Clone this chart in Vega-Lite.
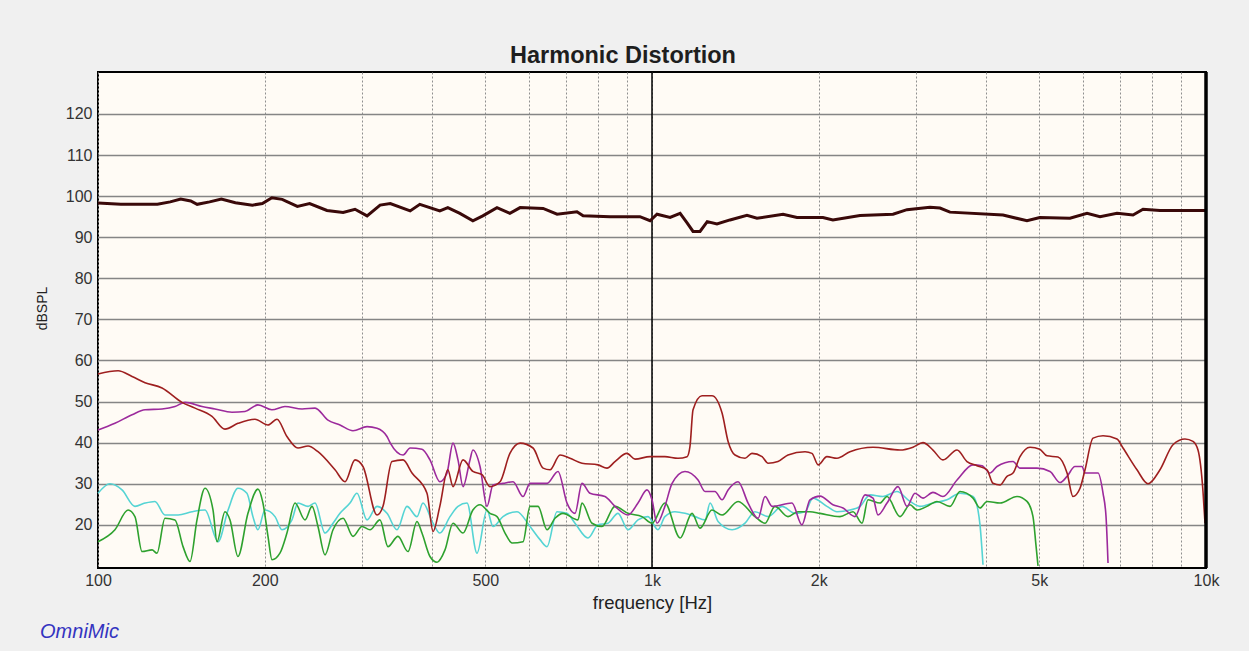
{
  "$schema": "https://vega.github.io/schema/vega-lite/v6.json",
  "width": 1108,
  "height": 496,
  "autosize": {"type": "none"},
  "padding": {"left": 98, "top": 72, "right": 43, "bottom": 83},
  "background": "#f0f0f0",
  "title": {"text": "Harmonic Distortion", "font": "Liberation Sans", "fontSize": 23.5, "fontWeight": "bold", "color": "#1e1e1e", "anchor": "middle", "offset": 3, "dx": -29},
  "config": {"view": {"stroke": "#000000", "strokeWidth": 2, "fill": "#fffbf5"}},
  "datasets": {
    "curves": [
      {"s":"F","f":100,"db":98.3},{"s":"F","f":110,"db":98.0},{"s":"F","f":128,"db":98.0},{"s":"F","f":135,"db":98.6},{"s":"F","f":141,"db":99.3},{"s":"F","f":147,"db":98.8},{"s":"F","f":151,"db":98.0},{"s":"F","f":159,"db":98.6},{"s":"F","f":167,"db":99.3},{"s":"F","f":177,"db":98.4},{"s":"F","f":190,"db":97.8},{"s":"F","f":198,"db":98.2},{"s":"F","f":206,"db":99.6},{"s":"F","f":215,"db":99.2},{"s":"F","f":229,"db":97.5},{"s":"F","f":241,"db":98.2},{"s":"F","f":259,"db":96.5},{"s":"F","f":277,"db":96.0},{"s":"F","f":291,"db":96.8},{"s":"F","f":306,"db":95.2},{"s":"F","f":323,"db":97.8},{"s":"F","f":337,"db":98.2},{"s":"F","f":366,"db":96.4},{"s":"F","f":381,"db":98.0},{"s":"F","f":414,"db":96.4},{"s":"F","f":428,"db":97.2},{"s":"F","f":450,"db":95.8},{"s":"F","f":475,"db":94.0},{"s":"F","f":495,"db":95.2},{"s":"F","f":525,"db":97.2},{"s":"F","f":554,"db":95.8},{"s":"F","f":578,"db":97.2},{"s":"F","f":636,"db":97.0},{"s":"F","f":674,"db":95.6},{"s":"F","f":732,"db":96.2},{"s":"F","f":751,"db":95.2},{"s":"F","f":840,"db":95.0},{"s":"F","f":951,"db":95.0},{"s":"F","f":992,"db":94.0},{"s":"F","f":1021,"db":95.6},{"s":"F","f":1078,"db":94.8},{"s":"F","f":1124,"db":95.8},{"s":"F","f":1157,"db":93.5},{"s":"F","f":1186,"db":91.4},{"s":"F","f":1221,"db":91.4},{"s":"F","f":1258,"db":93.8},{"s":"F","f":1310,"db":93.2},{"s":"F","f":1383,"db":94.2},{"s":"F","f":1484,"db":95.3},{"s":"F","f":1547,"db":94.6},{"s":"F","f":1724,"db":95.6},{"s":"F","f":1827,"db":94.8},{"s":"F","f":2035,"db":94.8},{"s":"F","f":2121,"db":94.2},{"s":"F","f":2374,"db":95.3},{"s":"F","f":2723,"db":95.6},{"s":"F","f":2886,"db":96.7},{"s":"F","f":3175,"db":97.3},{"s":"F","f":3310,"db":97.1},{"s":"F","f":3450,"db":96.1},{"s":"F","f":4301,"db":95.4},{"s":"F","f":4752,"db":94.0},{"s":"F","f":5012,"db":94.8},{"s":"F","f":5682,"db":94.6},{"s":"F","f":6099,"db":95.8},{"s":"F","f":6437,"db":95.0},{"s":"F","f":6908,"db":95.8},{"s":"F","f":7383,"db":95.4},{"s":"F","f":7697,"db":96.8},{"s":"F","f":8259,"db":96.5},{"s":"F","f":10000,"db":96.5},

      {"s":"H2","f":100,"db":56.7},{"s":"H2","f":108.7,"db":57.5},{"s":"H2","f":115.2,"db":56.1},{"s":"H2","f":121.6,"db":54.6},{"s":"H2","f":130.5,"db":53.3},{"s":"H2","f":141.8,"db":49.8},{"s":"H2","f":149.7,"db":48.4},{"s":"H2","f":160.6,"db":46.4},{"s":"H2","f":169.5,"db":43.3},{"s":"H2","f":178.9,"db":44.7},{"s":"H2","f":192,"db":45.7},{"s":"H2","f":202.7,"db":44.3},{"s":"H2","f":210.4,"db":45.7},{"s":"H2","f":219.3,"db":41.5},{"s":"H2","f":229.6,"db":38.7},{"s":"H2","f":239.4,"db":39.2},{"s":"H2","f":249.5,"db":37.8},{"s":"H2","f":267.8,"db":33.4},{"s":"H2","f":279.2,"db":30.5},{"s":"H2","f":291,"db":35.8},{"s":"H2","f":300.8,"db":34.2},{"s":"H2","f":318.9,"db":22.4},{"s":"H2","f":326.9,"db":24.5},{"s":"H2","f":339.3,"db":35.4},{"s":"H2","f":355.3,"db":35.8},{"s":"H2","f":368.8,"db":32.6},{"s":"H2","f":392.5,"db":27.7},{"s":"H2","f":402.4,"db":18.4},{"s":"H2","f":414,"db":24.5},{"s":"H2","f":428,"db":33.4},{"s":"H2","f":437.3,"db":29.3},{"s":"H2","f":455.9,"db":35.8},{"s":"H2","f":475,"db":33.0},{"s":"H2","f":493.3,"db":32.2},{"s":"H2","f":510,"db":29.3},{"s":"H2","f":531.7,"db":30.5},{"s":"H2","f":554,"db":37.4},{"s":"H2","f":578,"db":39.9},{"s":"H2","f":609.9,"db":38.7},{"s":"H2","f":636,"db":33.8},{"s":"H2","f":654.5,"db":33.4},{"s":"H2","f":682.3,"db":37.0},{"s":"H2","f":711.2,"db":36.2},{"s":"H2","f":747.5,"db":35.0},{"s":"H2","f":798.9,"db":34.6},{"s":"H2","f":829.4,"db":33.8},{"s":"H2","f":857.4,"db":35.4},{"s":"H2","f":901,"db":37.4},{"s":"H2","f":932,"db":36.0},{"s":"H2","f":992,"db":36.6},{"s":"H2","f":1055,"db":36.6},{"s":"H2","f":1114,"db":36.2},{"s":"H2","f":1157,"db":36.6},{"s":"H2","f":1171,"db":39.1},{"s":"H2","f":1186,"db":48.0},{"s":"H2","f":1231,"db":51.4},{"s":"H2","f":1283,"db":51.4},{"s":"H2","f":1338,"db":47.2},{"s":"H2","f":1372,"db":40.3},{"s":"H2","f":1412,"db":37.0},{"s":"H2","f":1472,"db":36.2},{"s":"H2","f":1515,"db":37.4},{"s":"H2","f":1580,"db":36.6},{"s":"H2","f":1620,"db":35.0},{"s":"H2","f":1688,"db":35.4},{"s":"H2","f":1760,"db":37.0},{"s":"H2","f":1889,"db":37.8},{"s":"H2","f":1944,"db":37.4},{"s":"H2","f":1995,"db":34.6},{"s":"H2","f":2069,"db":36.6},{"s":"H2","f":2157,"db":36.2},{"s":"H2","f":2277,"db":37.8},{"s":"H2","f":2506,"db":38.9},{"s":"H2","f":2803,"db":38.2},{"s":"H2","f":2959,"db":38.9},{"s":"H2","f":3084,"db":40.0},{"s":"H2","f":3215,"db":38.2},{"s":"H2","f":3351,"db":35.8},{"s":"H2","f":3553,"db":38.2},{"s":"H2","f":3703,"db":35.4},{"s":"H2","f":3860,"db":34.4},{"s":"H2","f":4024,"db":33.4},{"s":"H2","f":4126,"db":30.1},{"s":"H2","f":4248,"db":29.7},{"s":"H2","f":4373,"db":31.8},{"s":"H2","f":4484,"db":32.6},{"s":"H2","f":4616,"db":36.6},{"s":"H2","f":4812,"db":38.9},{"s":"H2","f":5012,"db":38.4},{"s":"H2","f":5164,"db":36.8},{"s":"H2","f":5406,"db":36.5},{"s":"H2","f":5613,"db":32.6},{"s":"H2","f":5753,"db":26.9},{"s":"H2","f":5924,"db":28.9},{"s":"H2","f":6048,"db":33.4},{"s":"H2","f":6253,"db":41.1},{"s":"H2","f":6518,"db":41.7},{"s":"H2","f":6908,"db":40.9},{"s":"H2","f":7083,"db":38.7},{"s":"H2","f":7506,"db":33.4},{"s":"H2","f":7858,"db":30.0},{"s":"H2","f":8259,"db":33.4},{"s":"H2","f":8718,"db":39.5},{"s":"H2","f":9164,"db":40.9},{"s":"H2","f":9474,"db":40.3},{"s":"H2","f":9673,"db":38.2},{"s":"H2","f":9876,"db":28.1},{"s":"H2","f":9959,"db":20.4},

      {"s":"H3","f":100,"db":43.1},{"s":"H3","f":107.3,"db":44.7},{"s":"H3","f":115.2,"db":46.8},{"s":"H3","f":121.6,"db":48.0},{"s":"H3","f":130.5,"db":48.2},{"s":"H3","f":137.7,"db":48.8},{"s":"H3","f":143.6,"db":49.8},{"s":"H3","f":154.1,"db":48.8},{"s":"H3","f":162.6,"db":48.2},{"s":"H3","f":174.5,"db":47.4},{"s":"H3","f":184.2,"db":47.6},{"s":"H3","f":194.4,"db":49.2},{"s":"H3","f":206,"db":48.0},{"s":"H3","f":217.5,"db":48.8},{"s":"H3","f":233.5,"db":48.2},{"s":"H3","f":246.5,"db":48.4},{"s":"H3","f":260.1,"db":45.5},{"s":"H3","f":273.4,"db":44.3},{"s":"H3","f":288.6,"db":42.9},{"s":"H3","f":306,"db":43.9},{"s":"H3","f":318.9,"db":43.5},{"s":"H3","f":332.4,"db":41.5},{"s":"H3","f":337,"db":39.9},{"s":"H3","f":355.3,"db":37.0},{"s":"H3","f":366,"db":38.7},{"s":"H3","f":384.4,"db":38.4},{"s":"H3","f":397.4,"db":35.8},{"s":"H3","f":414,"db":30.5},{"s":"H3","f":426.5,"db":32.6},{"s":"H3","f":437.3,"db":39.9},{"s":"H3","f":446.5,"db":35.8},{"s":"H3","f":455.9,"db":29.3},{"s":"H3","f":469.3,"db":35.8},{"s":"H3","f":475,"db":38.2},{"s":"H3","f":489.3,"db":34.2},{"s":"H3","f":503.7,"db":24.5},{"s":"H3","f":516.4,"db":29.7},{"s":"H3","f":538.3,"db":30.1},{"s":"H3","f":561.3,"db":30.5},{"s":"H3","f":585,"db":26.9},{"s":"H3","f":602.3,"db":30.1},{"s":"H3","f":646.4,"db":30.1},{"s":"H3","f":676.6,"db":33.0},{"s":"H3","f":702.4,"db":25.3},{"s":"H3","f":726.1,"db":22.8},{"s":"H3","f":747.5,"db":30.1},{"s":"H3","f":772.8,"db":27.7},{"s":"H3","f":822.5,"db":26.9},{"s":"H3","f":857.4,"db":24.5},{"s":"H3","f":905,"db":22.4},{"s":"H3","f":943.5,"db":25.3},{"s":"H3","f":979.4,"db":28.5},{"s":"H3","f":1000,"db":26.1},{"s":"H3","f":1021,"db":20.4},{"s":"H3","f":1055,"db":24.5},{"s":"H3","f":1087,"db":30.1},{"s":"H3","f":1147,"db":33.0},{"s":"H3","f":1211,"db":30.9},{"s":"H3","f":1247,"db":28.1},{"s":"H3","f":1299,"db":28.1},{"s":"H3","f":1338,"db":26.1},{"s":"H3","f":1372,"db":28.5},{"s":"H3","f":1430,"db":30.5},{"s":"H3","f":1491,"db":25.3},{"s":"H3","f":1554,"db":21.6},{"s":"H3","f":1600,"db":26.9},{"s":"H3","f":1647,"db":24.5},{"s":"H3","f":1789,"db":25.3},{"s":"H3","f":1865,"db":20.0},{"s":"H3","f":1928,"db":26.1},{"s":"H3","f":2010,"db":27.0},{"s":"H3","f":2121,"db":24.9},{"s":"H3","f":2212,"db":24.1},{"s":"H3","f":2325,"db":22.0},{"s":"H3","f":2424,"db":27.3},{"s":"H3","f":2506,"db":26.5},{"s":"H3","f":2558,"db":22.4},{"s":"H3","f":2656,"db":25.3},{"s":"H3","f":2780,"db":29.3},{"s":"H3","f":2886,"db":24.5},{"s":"H3","f":2983,"db":27.7},{"s":"H3","f":3084,"db":26.5},{"s":"H3","f":3215,"db":27.9},{"s":"H3","f":3351,"db":26.9},{"s":"H3","f":3553,"db":30.9},{"s":"H3","f":3797,"db":34.6},{"s":"H3","f":3942,"db":34.4},{"s":"H3","f":4075,"db":32.6},{"s":"H3","f":4195,"db":34.2},{"s":"H3","f":4484,"db":35.4},{"s":"H3","f":4616,"db":33.8},{"s":"H3","f":4954,"db":33.8},{"s":"H3","f":5229,"db":33.0},{"s":"H3","f":5451,"db":30.3},{"s":"H3","f":5613,"db":31.8},{"s":"H3","f":5801,"db":34.2},{"s":"H3","f":5974,"db":34.2},{"s":"H3","f":6048,"db":32.6},{"s":"H3","f":6384,"db":32.6},{"s":"H3","f":6518,"db":27.7},{"s":"H3","f":6600,"db":22.0},{"s":"H3","f":6655,"db":10.7},

      {"s":"H4","f":100,"db":15.9},{"s":"H4","f":107.3,"db":18.8},{"s":"H4","f":113.3,"db":23.6},{"s":"H4","f":116.6,"db":22.0},{"s":"H4","f":120.1,"db":13.5},{"s":"H4","f":125.2,"db":13.9},{"s":"H4","f":127.8,"db":13.1},{"s":"H4","f":132.1,"db":21.6},{"s":"H4","f":137.7,"db":21.2},{"s":"H4","f":142.4,"db":14.7},{"s":"H4","f":146.6,"db":11.1},{"s":"H4","f":150.9,"db":21.2},{"s":"H4","f":156,"db":28.9},{"s":"H4","f":161.3,"db":23.6},{"s":"H4","f":164,"db":15.9},{"s":"H4","f":169.5,"db":23.2},{"s":"H4","f":173.1,"db":21.2},{"s":"H4","f":178.9,"db":12.3},{"s":"H4","f":186.5,"db":22.8},{"s":"H4","f":194.4,"db":28.7},{"s":"H4","f":198.5,"db":25.3},{"s":"H4","f":202.7,"db":17.2},{"s":"H4","f":206.1,"db":11.5},{"s":"H4","f":213,"db":13.1},{"s":"H4","f":219.3,"db":18.0},{"s":"H4","f":226.8,"db":25.3},{"s":"H4","f":236.4,"db":21.2},{"s":"H4","f":243.4,"db":24.5},{"s":"H4","f":249.5,"db":19.6},{"s":"H4","f":256.9,"db":12.7},{"s":"H4","f":265.6,"db":18.8},{"s":"H4","f":276.9,"db":21.6},{"s":"H4","f":288.6,"db":17.2},{"s":"H4","f":299.6,"db":19.6},{"s":"H4","f":309.7,"db":18.8},{"s":"H4","f":322.8,"db":21.2},{"s":"H4","f":333.7,"db":14.7},{"s":"H4","f":347.9,"db":17.2},{"s":"H4","f":362.7,"db":13.5},{"s":"H4","f":376.5,"db":20.8},{"s":"H4","f":384.4,"db":18.0},{"s":"H4","f":397.4,"db":12.3},{"s":"H4","f":409.2,"db":10.9},{"s":"H4","f":423,"db":13.9},{"s":"H4","f":437.3,"db":20.4},{"s":"H4","f":455.9,"db":18.0},{"s":"H4","f":475,"db":23.6},{"s":"H4","f":489.3,"db":24.9},{"s":"H4","f":510,"db":22.8},{"s":"H4","f":525.1,"db":22.0},{"s":"H4","f":542.9,"db":18.0},{"s":"H4","f":558.9,"db":15.6},{"s":"H4","f":585,"db":15.9},{"s":"H4","f":602.3,"db":24.5},{"s":"H4","f":622.7,"db":24.5},{"s":"H4","f":646.4,"db":18.8},{"s":"H4","f":668.2,"db":21.6},{"s":"H4","f":690.8,"db":22.8},{"s":"H4","f":735.1,"db":21.2},{"s":"H4","f":747.5,"db":25.3},{"s":"H4","f":779.3,"db":20.4},{"s":"H4","f":812.3,"db":19.6},{"s":"H4","f":857.4,"db":24.5},{"s":"H4","f":905,"db":22.8},{"s":"H4","f":959.3,"db":22.0},{"s":"H4","f":1000,"db":20.4},{"s":"H4","f":1055,"db":25.3},{"s":"H4","f":1124,"db":16.8},{"s":"H4","f":1181,"db":22.8},{"s":"H4","f":1221,"db":19.2},{"s":"H4","f":1283,"db":23.6},{"s":"H4","f":1338,"db":22.4},{"s":"H4","f":1430,"db":25.7},{"s":"H4","f":1534,"db":22.0},{"s":"H4","f":1600,"db":20.4},{"s":"H4","f":1667,"db":24.5},{"s":"H4","f":1760,"db":22.0},{"s":"H4","f":1834,"db":23.2},{"s":"H4","f":1928,"db":23.2},{"s":"H4","f":2010,"db":22.8},{"s":"H4","f":2184,"db":22.0},{"s":"H4","f":2306,"db":23.2},{"s":"H4","f":2394,"db":20.4},{"s":"H4","f":2454,"db":26.1},{"s":"H4","f":2580,"db":25.3},{"s":"H4","f":2656,"db":26.9},{"s":"H4","f":2803,"db":22.0},{"s":"H4","f":2922,"db":24.9},{"s":"H4","f":3008,"db":23.6},{"s":"H4","f":3136,"db":24.5},{"s":"H4","f":3269,"db":25.7},{"s":"H4","f":3450,"db":24.5},{"s":"H4","f":3597,"db":28.1},{"s":"H4","f":3797,"db":26.5},{"s":"H4","f":3909,"db":24.1},{"s":"H4","f":4024,"db":25.7},{"s":"H4","f":4248,"db":25.3},{"s":"H4","f":4559,"db":26.9},{"s":"H4","f":4752,"db":25.7},{"s":"H4","f":4872,"db":22.0},{"s":"H4","f":4933,"db":15.0},{"s":"H4","f":4975,"db":10.0},

      {"s":"H5","f":100,"db":27.7},{"s":"H5","f":105.1,"db":30.0},{"s":"H5","f":110.5,"db":28.5},{"s":"H5","f":116.6,"db":24.5},{"s":"H5","f":121.6,"db":25.3},{"s":"H5","f":126.7,"db":25.7},{"s":"H5","f":132.1,"db":22.4},{"s":"H5","f":139.5,"db":22.4},{"s":"H5","f":147.8,"db":23.2},{"s":"H5","f":156,"db":23.6},{"s":"H5","f":164.7,"db":15.9},{"s":"H5","f":171.7,"db":23.6},{"s":"H5","f":178.9,"db":28.9},{"s":"H5","f":185.7,"db":27.7},{"s":"H5","f":190.4,"db":22.0},{"s":"H5","f":194.4,"db":18.8},{"s":"H5","f":200.2,"db":23.6},{"s":"H5","f":208.7,"db":22.0},{"s":"H5","f":214.8,"db":18.8},{"s":"H5","f":223.9,"db":21.2},{"s":"H5","f":229.6,"db":25.3},{"s":"H5","f":239.4,"db":24.5},{"s":"H5","f":246.5,"db":25.3},{"s":"H5","f":256.9,"db":18.0},{"s":"H5","f":265.6,"db":20.4},{"s":"H5","f":273.4,"db":22.8},{"s":"H5","f":285,"db":25.3},{"s":"H5","f":293.4,"db":27.7},{"s":"H5","f":305.9,"db":21.2},{"s":"H5","f":318.9,"db":24.5},{"s":"H5","f":332.4,"db":22.8},{"s":"H5","f":346.5,"db":18.8},{"s":"H5","f":361.2,"db":24.5},{"s":"H5","f":376.5,"db":22.0},{"s":"H5","f":386,"db":25.3},{"s":"H5","f":402.4,"db":20.4},{"s":"H5","f":414,"db":18.0},{"s":"H5","f":431.9,"db":22.0},{"s":"H5","f":446.5,"db":24.5},{"s":"H5","f":463.6,"db":25.3},{"s":"H5","f":483.2,"db":13.1},{"s":"H5","f":503.7,"db":23.6},{"s":"H5","f":516.4,"db":19.6},{"s":"H5","f":538.3,"db":22.0},{"s":"H5","f":570.6,"db":23.2},{"s":"H5","f":602.3,"db":19.6},{"s":"H5","f":627.9,"db":16.4},{"s":"H5","f":646.4,"db":14.7},{"s":"H5","f":673.8,"db":23.2},{"s":"H5","f":702.4,"db":22.8},{"s":"H5","f":726.1,"db":20.4},{"s":"H5","f":766.4,"db":16.8},{"s":"H5","f":798.9,"db":20.0},{"s":"H5","f":832.8,"db":20.4},{"s":"H5","f":868.2,"db":22.8},{"s":"H5","f":905,"db":18.8},{"s":"H5","f":943.5,"db":21.2},{"s":"H5","f":983.5,"db":22.0},{"s":"H5","f":1025,"db":18.8},{"s":"H5","f":1055,"db":22.0},{"s":"H5","f":1100,"db":23.2},{"s":"H5","f":1147,"db":22.8},{"s":"H5","f":1196,"db":22.0},{"s":"H5","f":1247,"db":21.2},{"s":"H5","f":1273,"db":25.3},{"s":"H5","f":1316,"db":20.8},{"s":"H5","f":1395,"db":18.8},{"s":"H5","f":1472,"db":20.4},{"s":"H5","f":1534,"db":23.2},{"s":"H5","f":1620,"db":22.0},{"s":"H5","f":1717,"db":24.5},{"s":"H5","f":1812,"db":22.8},{"s":"H5","f":1889,"db":23.2},{"s":"H5","f":1952,"db":26.5},{"s":"H5","f":2069,"db":24.5},{"s":"H5","f":2157,"db":23.2},{"s":"H5","f":2277,"db":23.6},{"s":"H5","f":2374,"db":24.5},{"s":"H5","f":2475,"db":27.3},{"s":"H5","f":2612,"db":26.9},{"s":"H5","f":2768,"db":28.1},{"s":"H5","f":2922,"db":25.7},{"s":"H5","f":3046,"db":24.5},{"s":"H5","f":3215,"db":25.3},{"s":"H5","f":3408,"db":26.1},{"s":"H5","f":3597,"db":27.7},{"s":"H5","f":3797,"db":26.9},{"s":"H5","f":3876,"db":23.6},{"s":"H5","f":3909,"db":20.0},{"s":"H5","f":3958,"db":10.3}
    ],
    "marker": [{"f": 1000, "lo": 9.5, "hi": 130.2}],
    "edge": [{"f": 10000, "lo": 9.5, "hi": 130.2}],
    "brand": [{"label": "OmniMic", "f": 78.6, "db": -6}]
  },
  "encoding": {
    "x": {"field": "f", "type": "quantitative", "scale": {"type": "log", "domain": [100, 10000], "nice": false},
      "axis": {
        "values": [100,200,300,400,500,600,700,800,900,1000,2000,3000,4000,5000,6000,7000,8000,9000,10000],
        "labelExpr": "indexof([100,200,500,1000,2000,5000,10000], datum.value) >= 0 ? (datum.value >= 1000 ? (datum.value/1000) + 'k' : '' + datum.value) : ''",
        "grid": true, "gridColor": "#8f8f8f", "gridDash": [2, 2], "gridWidth": 1,
        "ticks": false, "domain": false, "labelFlush": false, "labelOverlap": false,
        "labelFont": "Liberation Sans", "labelFontSize": 16, "labelColor": "#333333", "labelPadding": 4,
        "title": "frequency [Hz]", "titleFont": "Liberation Sans", "titleFontSize": 18.5, "titleFontWeight": "normal", "titleColor": "#222222", "titlePadding": 5
      }
    },
    "y": {"field": "db", "type": "quantitative", "scale": {"domain": [9.5, 130.2], "nice": false, "zero": false},
      "axis": {
        "values": [20,30,40,50,60,70,80,90,100,110,120],
        "grid": true, "gridColor": "#858585", "gridWidth": 1.3,
        "ticks": false, "domain": false, "labelFont": "Liberation Sans", "labelFontSize": 16, "labelColor": "#333333", "labelPadding": 6,
        "title": "dBSPL", "titleFont": "Liberation Sans", "titleFontSize": 14, "titleFontWeight": "normal", "titleColor": "#222222", "titlePadding": 16, "titleY": 236
      }
    }
  },
  "layer": [
    {
      "data": {"name": "marker"},
      "mark": {"type": "rule", "color": "#000000", "strokeWidth": 1.5},
      "encoding": {
        "y": {"field": "lo", "type": "quantitative", "title": "dBSPL"},
        "y2": {"field": "hi"}
      }
    },
    {
      "data": {"name": "curves"},
      "transform": [{"filter": "datum.s == 'H5'"}],
      "mark": {"type": "line", "color": "#55d4d4", "strokeWidth": 1.6, "interpolate": "monotone"}
    },
    {
      "data": {"name": "curves"},
      "transform": [{"filter": "datum.s == 'H4'"}],
      "mark": {"type": "line", "color": "#2ea12e", "strokeWidth": 1.6, "interpolate": "monotone"}
    },
    {
      "data": {"name": "curves"},
      "transform": [{"filter": "datum.s == 'H3'"}],
      "mark": {"type": "line", "color": "#9c2a9c", "strokeWidth": 1.6, "interpolate": "monotone"}
    },
    {
      "data": {"name": "curves"},
      "transform": [{"filter": "datum.s == 'H2'"}],
      "mark": {"type": "line", "color": "#9e1f1f", "strokeWidth": 1.6, "interpolate": "monotone"}
    },
    {
      "data": {"name": "curves"},
      "transform": [{"filter": "datum.s == 'F'"}],
      "mark": {"type": "line", "color": "#3a0909", "strokeWidth": 3}
    },
    {
      "data": {"name": "edge"},
      "mark": {"type": "rule", "color": "#000000", "strokeWidth": 3.5},
      "encoding": {
        "y": {"field": "lo", "type": "quantitative", "title": "dBSPL"},
        "y2": {"field": "hi"}
      }
    },
    {
      "data": {"name": "brand"},
      "mark": {"type": "text", "font": "Liberation Sans", "fontSize": 20, "fontStyle": "italic", "color": "#3434c0", "align": "left", "baseline": "middle", "clip": false},
      "encoding": {
        "text": {"field": "label"}
      }
    }
  ]
}
